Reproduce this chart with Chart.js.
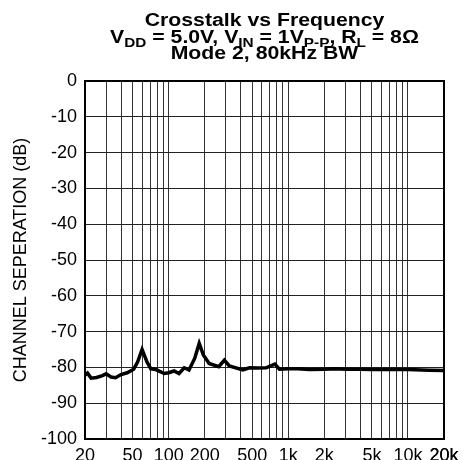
<!DOCTYPE html>
<html>
<head>
<meta charset="utf-8">
<script src="https://cdn.jsdelivr.net/npm/chart.js@4/dist/chart.umd.min.js"></script>
<style>
  html,body{margin:0;padding:0;background:#fff;}
  #wrap{position:relative;width:469px;height:460px;}
</style>
</head>
<body>
<div id="wrap"><canvas id="c" width="469" height="460"></canvas></div>
<script>
// ---- data ----
const frequencies = [20, 21, 22.5, 25, 28, 30, 33, 36, 40, 45, 51, 55, 60, 66, 71, 78, 92, 100, 111, 122, 135, 148, 165, 180, 195, 218, 262, 292, 322, 416, 474, 560, 652, 772, 843, 1000, 1200, 1500, 2000, 2500, 3000, 4000, 5000, 7000, 10000, 15000, 20000];
const separationDb = [-82.2, -81.6, -83.0, -82.8, -82.3, -81.8, -82.7, -82.9, -82.0, -81.5, -80.5, -78.5, -75.0, -78.5, -80.4, -80.6, -81.7, -81.5, -81.0, -81.7, -80.1, -80.7, -77.5, -73.3, -76.5, -78.9, -79.8, -78.0, -79.6, -80.7, -80.1, -80.2, -80.1, -79.1, -80.5, -80.4, -80.4, -80.6, -80.5, -80.4, -80.5, -80.5, -80.6, -80.6, -80.6, -80.8, -80.9];
const xTickLabels = {20: '20', 50: '50', 100: '100', 200: '200', 500: '500', 1000: '1k', 2000: '2k', 5000: '5k', 10000: '10k', 20000: '20k'};
const yTicks = [0, -10, -20, -30, -40, -50, -60, -70, -80, -90, -100];
const titleLines = [
  [{t: 'Crosstalk vs Frequency'}],
  [{t: 'V'}, {t: 'DD', sub: true}, {t: ' = 5.0V, V'}, {t: 'IN', sub: true}, {t: ' = 1V'}, {t: 'P-P', sub: true}, {t: ', R'}, {t: 'L', sub: true}, {t: ' = 8Ω'}],
  [{t: 'Mode 2, 80kHz BW'}]
];
const yAxisTitle = 'CHANNEL SEPERATION (dB)';

const FONT = '"Liberation Sans", Arial, Helvetica, sans-serif';

const titlePlugin = {
  id: 'richTitle',
  afterDraw(chart) {
    const ctx = chart.ctx;
    const ca = chart.chartArea;
    const cx = (ca.left + ca.right) / 2;
    const baselines = [26, 42.5, 58.5];
    const sx = 1.18;
    ctx.save();
    ctx.fillStyle = '#000';
    ctx.textBaseline = 'alphabetic';
    ctx.textAlign = 'left';
    titleLines.forEach((segs, i) => {
      let w = 0;
      segs.forEach(s => {
        ctx.font = 'bold ' + (s.sub ? 13 : 18) + 'px ' + FONT;
        s.w = ctx.measureText(s.t).width;
        w += s.w;
      });
      ctx.save();
      ctx.translate(cx, baselines[i]);
      ctx.scale(sx, 1);
      let x = -w / 2;
      segs.forEach(s => {
        ctx.font = 'bold ' + (s.sub ? 13 : 18) + 'px ' + FONT;
        ctx.fillText(s.t, x, s.sub ? 4 : 0);
        x += s.w;
      });
      ctx.restore();
    });
    ctx.restore();
  }
};

const borderPlugin = {
  id: 'frame',
  afterDatasetsDraw(chart) {
    const ctx = chart.ctx, ca = chart.chartArea;
    ctx.save();
    ctx.strokeStyle = '#000';
    ctx.lineWidth = 2;
    ctx.strokeRect(ca.left, ca.top, ca.right - ca.left, ca.bottom - ca.top);
    ctx.restore();
  }
};

new Chart(document.getElementById('c'), {
  type: 'line',
  data: {
    datasets: [{
      data: frequencies.map((f, i) => ({x: f, y: separationDb[i]})),
      borderColor: '#000',
      borderWidth: 3.5,
      pointRadius: 0,
      tension: 0,
      fill: false
    }]
  },
  options: {
    responsive: false,
    animation: false,
    devicePixelRatio: 1,
    layout: {padding: {top: 81, right: 25, left: 0, bottom: 0}},
    plugins: {legend: {display: false}, title: {display: false}, tooltip: {enabled: false}},
    scales: {
      x: {
        type: 'logarithmic',
        min: 20, max: 20000,
        afterBuildTicks(scale) {
          const t = [];
          for (let d = 10; d <= 10000; d *= 10) {
            for (let m = 1; m <= 9; m++) {
              const v = m * d;
              if (v >= 20 && v <= 20000) t.push({value: v});
            }
          }
          t.push({value: 20000});
          scale.ticks = t;
        },
        afterFit(scale) { scale.height = 21; },
        ticks: {
          autoSkip: false, maxRotation: 0, minRotation: 0, padding: 6,
          color: '#000', font: {family: FONT, size: 18},
          callback(v) { return xTickLabels[v] !== undefined ? xTickLabels[v] : ''; }
        },
        grid: {color: '#333', lineWidth: 1, drawTicks: false},
        border: {display: false}
      },
      y: {
        type: 'linear',
        min: -100, max: 0,
        afterBuildTicks(scale) { scale.ticks = yTicks.map(v => ({value: v})); },
        afterFit(scale) { scale.width = 85; },
        ticks: {padding: 8, color: '#000', font: {family: FONT, size: 18}},
        grid: {color: '#222', lineWidth: 1, drawTicks: false},
        border: {display: false},
        title: {display: true, text: yAxisTitle, color: '#000', font: {family: FONT, size: 18}, padding: {top: 10, bottom: 0}}
      }
    }
  },
  plugins: [titlePlugin, borderPlugin]
});
</script>
</body>
</html>
